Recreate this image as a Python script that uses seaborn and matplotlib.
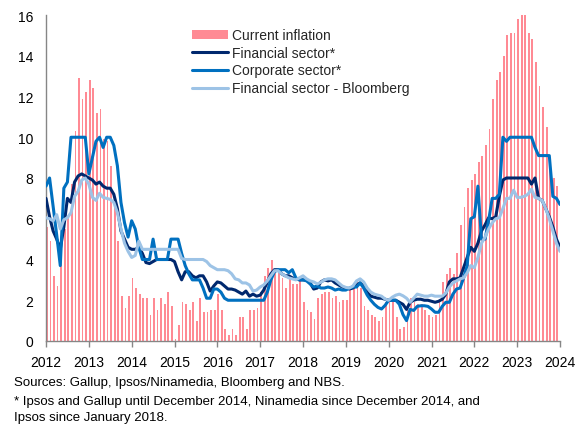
import numpy as np
import pandas as pd
import matplotlib
matplotlib.use("Agg")
import matplotlib.pyplot as plt
import seaborn as sns

sns.set_theme(style="white")
plt.rcParams["font.family"] = ["Liberation Sans", "DejaVu Sans"]

# ---------------- data (monthly, from Jan 2012) ----------------
start_year = 2012
inflation = [
    5.6, 4.9, 3.2, 2.7, 3.9, 5.5, 6.1, 7.7, 10.3, 12.9, 11.9, 12.2,
    12.8, 12.4, 11.2, 11.4, 9.9, 9.8, 8.6, 7.0, 4.9, 2.2, 1.6, 2.2,
    3.1, 2.6, 2.3, 2.1, 2.1, 1.3, 2.1, 1.5, 2.1, 1.8, 2.4, 1.7,
    0.1, 0.8, 1.9, 1.8, 1.5, 1.9, 1.0, 2.1, 1.4, 1.4, 1.5, 1.5,
    2.3, 1.5, 0.6, 0.3, 0.6, 0.3, 1.2, 1.2, 0.6, 1.5, 1.5, 1.6,
    2.4, 3.2, 3.6, 4.0, 3.5, 3.4, 3.1, 2.6, 3.2, 2.8, 2.8, 3.0,
    1.9, 1.5, 1.4, 1.1, 2.1, 2.3, 2.4, 2.4, 2.1, 2.2, 1.9, 2.0,
    2.0, 2.5, 2.6, 3.0, 2.6, 1.7, 1.5, 1.3, 1.2, 1.0, 1.2, 1.9,
    1.9, 1.9, 1.2, 0.6, 0.7, 1.5, 2.1, 1.9, 1.8, 1.8, 1.5, 1.3,
    1.2, 1.3, 2.0, 2.9, 3.3, 3.6, 3.3, 4.3, 5.7, 6.6, 7.5, 7.9,
    8.2, 8.8, 9.1, 9.6, 10.4, 11.9, 12.8, 13.2, 14.0, 15.0, 15.1, 15.1,
    15.8, 16.1, 16.2, 15.1, 14.8, 13.7, 12.5, 11.5, 10.5, 8.5, 8.0, 7.6,
]
financial = [
    7.0, 6.1, 5.4, 5.0, 4.5, 5.6, 7.0, 6.8, 7.8, 8.1, 8.2, 8.1,
    8.0, 7.9, 7.7, 7.8, 7.6, 7.5, 7.5, 7.2, 6.5, 5.4, 5.0, 4.6,
    4.5, 4.5, 4.6, 4.3, 3.85, 3.8, 3.9, 4.0, 4.0, 4.0, 4.0, 4.0,
    3.9, 3.4, 3.0, 3.4, 3.4, 3.2, 3.1, 3.2, 3.2, 2.9, 2.45, 2.7,
    2.9, 2.85, 2.7, 2.55, 2.55, 2.5, 2.4, 2.3, 2.45, 2.2, 2.3, 2.2,
    2.25, 2.5, 2.9, 3.3, 3.5, 3.5, 3.3, 3.2, 3.2, 3.1, 3.05, 3.0,
    3.0, 3.0, 2.85, 2.55, 2.6, 2.9, 3.0, 2.95, 3.0, 2.85, 2.75, 2.65,
    2.6, 2.55, 2.6, 2.75, 2.85, 2.7, 2.4, 2.2, 2.15, 2.1, 2.1, 2.05,
    2.0, 2.0, 2.0, 1.9, 1.8, 1.55, 1.9, 2.0, 2.05, 2.05, 2.0, 2.0,
    1.95, 1.9, 1.95, 2.05, 2.3, 2.9, 3.05, 3.05, 3.1, 3.6, 4.1, 4.6,
    4.4, 4.8, 5.4, 5.7, 6.05, 6.0, 6.1, 7.1, 7.9, 8.0, 8.0, 8.0,
    8.0, 8.0, 8.0, 8.0, 7.7, 8.0, 7.0, 6.9, 6.5, 6.1, 5.6, 5.0,
    4.6,
]
corporate = [
    7.6, 8.0, 6.6, 5.2, 3.7, 7.5, 7.8, 10.0, 10.0, 10.0, 10.0, 10.0,
    8.2, 9.0, 9.8, 10.0, 9.5, 10.0, 10.0, 9.6, 8.6, 6.8, 5.8, 5.1,
    5.9, 5.5, 4.6, 4.0, 4.0, 4.0, 5.0, 4.0, 4.0, 4.0, 4.0, 5.0,
    5.0, 5.0, 4.3, 3.7, 3.3, 3.0, 3.0, 3.0, 2.6, 2.1, 2.1, 2.55,
    2.55, 2.4, 2.1, 2.0, 2.0, 2.0, 2.0, 2.0, 2.0, 2.0, 2.0, 2.0,
    2.0, 2.0, 2.4, 3.0, 3.4, 3.5, 3.5, 3.5, 3.35, 3.5, 3.1, 3.0,
    3.0, 2.95, 2.8, 2.65, 2.7, 2.6, 2.6, 2.65, 2.6, 2.5, 2.55, 2.5,
    2.5, 2.6, 2.65, 2.65, 2.85, 2.6, 2.25, 2.0, 1.8, 1.65, 1.57, 1.75,
    2.0, 2.0, 2.0, 1.8, 1.3, 1.0, 1.55, 1.5, 1.7, 1.73, 1.73, 1.7,
    1.57, 1.41, 1.41, 1.7, 1.9, 1.9, 2.3, 2.55, 2.6, 3.1, 3.7, 6.0,
    6.1, 7.6, 5.0, 5.0, 5.9, 7.0, 7.0, 7.2, 10.0, 9.8, 10.0, 10.0,
    10.0, 10.0, 10.0, 10.0, 10.0, 9.5, 9.1, 9.1, 9.1, 9.1, 7.1, 7.0,
    6.7,
]
bloomberg = [
    6.05, 6.0, 5.9, 6.2, 5.5, 5.95, 6.05, 6.3, 7.1, 7.35, 7.9, 8.0,
    7.7, 7.05, 6.9, 7.25, 7.05, 7.0, 6.95, 6.8, 6.3, 5.5, 4.8, 4.4,
    4.1, 4.2, 4.9, 4.5, 4.5, 4.5, 4.5, 4.5, 4.5, 4.5, 4.5, 4.5,
    4.5, 4.5, 4.05, 4.0, 4.0, 4.0, 4.0, 4.0, 4.0, 3.9, 3.7, 3.6,
    3.5, 3.5, 3.5, 3.45, 3.3, 3.05, 3.0, 2.85, 2.85, 2.75, 2.45, 2.5,
    2.65, 2.75, 2.95, 3.2, 3.45, 3.45, 3.3, 3.2, 3.1, 3.05, 3.0, 3.1,
    3.2, 3.05, 2.95, 2.9, 2.8, 2.88, 3.0, 3.05, 3.05, 3.0, 2.85, 2.7,
    2.63, 2.6, 2.7, 2.95, 3.05, 2.9, 2.6, 2.4, 2.3, 2.25, 2.2, 2.06,
    2.0, 2.15, 2.25, 2.3, 2.22, 2.1, 1.9, 2.1, 2.3, 2.25, 2.2, 2.2,
    2.25, 2.2, 2.2, 2.2, 2.35, 2.65, 2.85, 2.95, 3.05, 3.1, 3.35, 3.7,
    3.6, 4.1, 4.8, 5.1, 5.5, 5.8, 6.0, 6.05, 6.5, 7.0, 7.0, 7.4,
    7.05, 7.05, 7.1, 7.2, 7.45, 7.05, 7.0, 6.9, 6.5, 6.0, 5.4, 4.8,
    4.4,
]
year_ticks = list(range(2012, 2025))
y_ticks = [0, 2, 4, 6, 8, 10, 12, 14, 16]
series_names = ["Financial sector*", "Corporate sector*", "Financial sector - Bloomberg"]
bar_label = "Current inflation"
source_lines = [
    "Sources: Gallup, Ipsos/Ninamedia, Bloomberg and NBS.",
    "* Ipsos and Gallup until December 2014, Ninamedia since December 2014, and",
    "Ipsos since January 2018.",
]

# ---------------- style ----------------
bar_color = "#ff8a94"
line_colors = {"Financial sector*": "#00286e",
               "Corporate sector*": "#0070c0",
               "Financial sector - Bloomberg": "#9dc3e6"}
grey = "#868686"

W, H = 586, 427
fig = plt.figure(figsize=(W / 100, H / 100), dpi=100)
ax = fig.add_axes([46 / W, 1 - 342 / H, (560 - 46) / W, (342 - 16) / H])

t_bar = start_year + np.arange(len(inflation)) / 12
ax.bar(t_bar, inflation, width=0.5 / 12, align="edge", color=bar_color,
       linewidth=0, label=bar_label, zorder=1)

t_line = start_year + np.arange(len(financial)) / 12
df = pd.DataFrame({"t": t_line,
                   series_names[0]: financial,
                   series_names[1]: corporate,
                   series_names[2]: bloomberg})
long = df.melt("t", var_name="series", value_name="value")
sns.lineplot(data=long, x="t", y="value", hue="series", hue_order=series_names,
             palette=line_colors, linewidth=2.2, ax=ax, legend=False, zorder=3)

ax.set_xlim(2012, 2024)
ax.set_ylim(0, 16)
ax.set_xticks(year_ticks)
ax.set_xticklabels([str(y) for y in year_ticks])
ax.set_yticks(y_ticks)
ax.set_yticklabels([str(v) for v in y_ticks])
ax.set_xlabel("")
ax.set_ylabel("")
ax.grid(False)
for s in ["top", "right"]:
    ax.spines[s].set_visible(False)
for s in ["left", "bottom"]:
    ax.spines[s].set_color(grey)
    ax.spines[s].set_linewidth(1.0)
ax.tick_params(axis="x", direction="out", length=4, width=1, color=grey,
               labelsize=10, pad=6, labelcolor="black", bottom=True)
ax.tick_params(axis="y", length=0, labelsize=10, pad=9, labelcolor="black", left=True)

# legend
from matplotlib.patches import Patch
from matplotlib.lines import Line2D
handles = [Patch(facecolor=bar_color, edgecolor="none", label=bar_label)]
for n in series_names:
    handles.append(Line2D([0], [0], color=line_colors[n], lw=2.2, label=n))
leg = fig.legend(handles=handles, loc="upper left",
                 bbox_to_anchor=(192 / W, 1 - 29 / H), frameon=False,
                 fontsize=10, handlelength=2.6, handleheight=0.6,
                 handletextpad=0.25, labelspacing=0.27, borderpad=0,
                 borderaxespad=0)

# footnotes
ys = [383, 402, 418]
for line, y in zip(source_lines, ys):
    fig.text(14 / W, 1 - y / H, line, ha="left", va="center", fontsize=9.5, color="black")

fig.savefig("out.png", dpi=100)
